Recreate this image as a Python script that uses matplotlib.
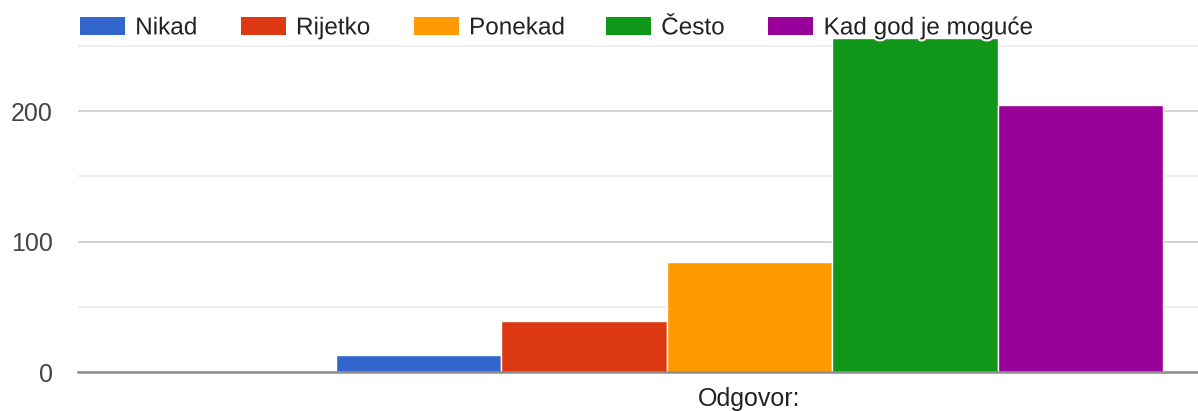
import matplotlib
matplotlib.use('Agg')
import matplotlib.pyplot as plt
import matplotlib.patheffects as pe
from matplotlib.patches import Patch
from matplotlib.ticker import MultipleLocator

plt.rcParams['font.family'] = ['Liberation Sans', 'DejaVu Sans']

# podaci
category = 'Odgovor:'
answers = ['Nikad', 'Rijetko', 'Ponekad', 'Često', 'Kad god je moguće']
counts = [13, 39, 84, 256, 205]
colors = ['#3366cc', '#dc3912', '#ff9900', '#109618', '#990099']

W, H = 1198, 411
fig = plt.figure(figsize=(W / 100, H / 100), dpi=100)
# os je sira od slike (desni dio je odrezan kao u originalu)
ax = fig.add_axes([78 / W, 39 / H, 1343 / W, 339 / H])

bw = 0.1232
n = len(answers)
for i, (lab, v, c) in enumerate(zip(answers, counts, colors)):
    ax.bar((i - (n - 1) / 2) * bw, v, bw, color=c, edgecolor='white', lw=1, label=lab, zorder=3)

ax.set_xlim(-0.5, 0.5)
ax.set_ylim(0, 260)
ax.set_xticks([])
ax.yaxis.set_major_locator(MultipleLocator(100))
ax.yaxis.set_minor_locator(MultipleLocator(50))
ax.grid(axis='y', which='major', color='#cccccc', lw=1.2, zorder=0)
ax.grid(axis='y', which='minor', color='#ebebeb', lw=1.2, zorder=0)
ax.tick_params(axis='y', which='both', length=0, pad=18, labelsize=18, labelcolor='#444444')
for s in ['top', 'right', 'left']:
    ax.spines[s].set_visible(False)
ax.spines['bottom'].set_color('#8c8c8c')
ax.spines['bottom'].set_linewidth(1.8)
ax.spines['bottom'].set_zorder(4)
ax.set_xlabel(category, fontsize=18, color='#222222', labelpad=11)

handles = [Patch(facecolor=c, label=l) for c, l in zip(colors, answers)]
leg_kw = dict(loc='center left', frameon=False, fontsize=17.5, borderaxespad=0, borderpad=0,
              handlelength=1.85, handleheight=0.8, handletextpad=0.42, columnspacing=1.8)
leg1 = fig.legend(handles=handles[:3], ncol=3, bbox_to_anchor=(80 / W, 1 - 28 / H), **leg_kw)
leg2 = fig.legend(handles=handles[3:], ncol=2, bbox_to_anchor=(606 / W, 1 - 28 / H), **leg_kw)
for leg in (leg1, leg2):
    for t in leg.get_texts():
        t.set_color('#222222')
        t.set_path_effects([pe.withStroke(linewidth=3, foreground='white')])

fig.savefig('out.png', dpi=100)
